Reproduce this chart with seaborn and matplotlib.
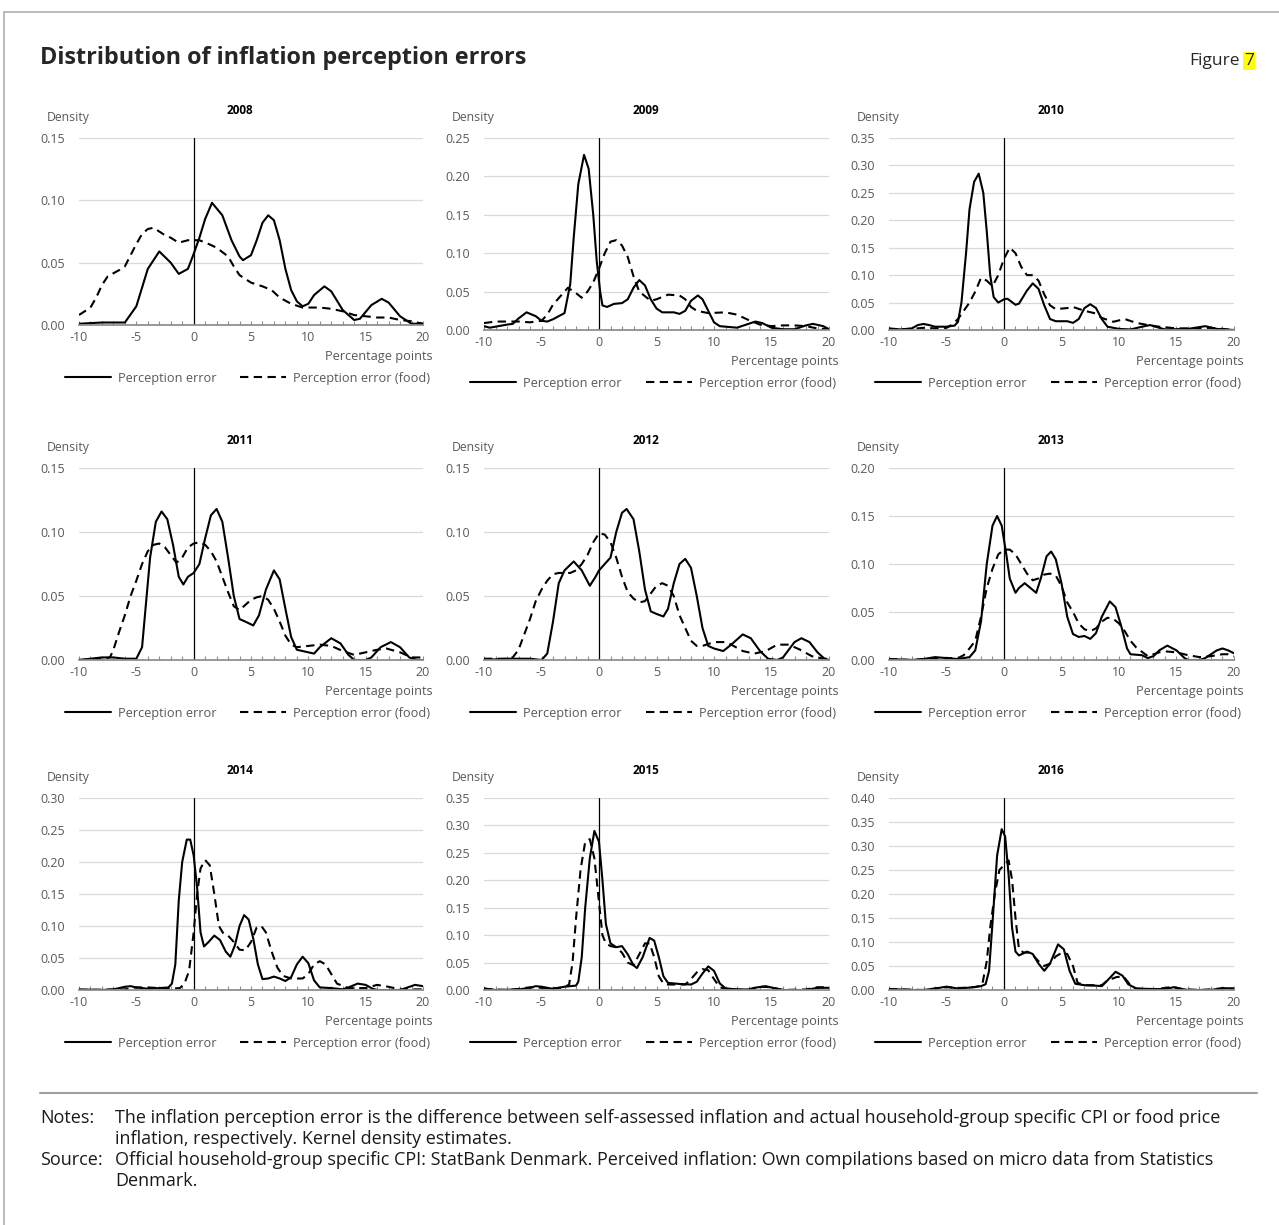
"""Distribution of inflation perception errors, 2008-2016 (kernel densities)."""

# %%
import matplotlib.pyplot as plt
import pandas as pd
import seaborn as sns
from matplotlib.lines import Line2D
from matplotlib.ticker import MultipleLocator

YEARS = [2008, 2009, 2010, 2011, 2012, 2013, 2014, 2015, 2016]
Y_MAX = [0.15, 0.25, 0.35, 0.15, 0.15, 0.20, 0.30, 0.35, 0.40]
SERIES = ["Perception error", "Perception error (food)"]

# (percentage points, density)
pe_2008 = [(-10, .001), (-8, .002), (-6, .002), (-5, .015), (-4, .045), (-3, .059), (-2, .050), (-1.3, .041),
           (-.5, .045), (0, .057), (.5, .070), (1, .085), (1.6, .098), (2.5, .088), (3.3, .068), (4, .055),
           (4.3, .052), (5, .056), (5.5, .068), (6, .082), (6.5, .088), (7, .084), (7.5, .068), (8, .045),
           (8.5, .028), (9, .019), (9.5, .015), (10, .017), (10.5, .024), (11.4, .031), (12, .027), (13, .012),
           (14, .004), (14.5, .005), (15.5, .016), (16.4, .021), (17, .018), (18, .007), (19, .001), (20, .001)]
food_2008 = [(-10, .008), (-9, .014), (-8.5, .022), (-8, .032), (-7.5, .039), (-6.5, .044), (-6, .047),
             (-5.5, .056), (-5, .065), (-4.5, .073), (-4, .077), (-3.5, .078), (-3, .075), (-2.5, .072), (-2, .070),
             (-1.3, .066), (-.5, .068), (.5, .068), (1.3, .065), (2, .062), (3, .055), (3.5, .047), (4, .040),
             (5, .034), (6, .031), (6.8, .028), (7.5, .022), (8.5, .017), (9.5, .014), (11, .014), (12, .013),
             (13, .011), (14, .008), (15, .007), (16, .006), (17, .006), (18, .004), (19, .003), (20, .001)]

pe_2009 = [(-10, .005), (-9.5, .003), (-8, .007), (-7.5, .008), (-7, .015), (-6.3, .023), (-5.5, .018), (-5, .012),
           (-4.5, .011), (-4, .014), (-3, .022), (-2.5, .060), (-2.2, .120), (-1.8, .190), (-1.3, .228), (-.9, .210),
           (-.5, .150), (-.2, .090), (.1, .050), (.3, .032), (.7, .030), (1.3, .034), (2, .035), (2.5, .040),
           (3, .055), (3.5, .065), (4, .058), (4.5, .040), (5, .028), (5.5, .023), (6.5, .023), (7, .021),
           (7.5, .025), (8, .038), (8.6, .045), (9, .040), (9.5, .025), (10, .010), (10.5, .005), (12, .003),
           (13, .008), (13.6, .011), (14.2, .009), (15, .003), (16, .001), (17, .001), (18, .006), (18.6, .008),
           (19.5, .005), (20, .001)]
food_2009 = [(-10, .009), (-9, .011), (-7, .011), (-6, .010), (-5, .012), (-4.5, .020), (-4, .033), (-3, .050),
             (-2.7, .055), (-2, .048), (-1.5, .042), (-1, .050), (-.5, .062), (0, .080), (.5, .100), (1, .115),
             (1.5, .117), (2, .110), (2.5, .095), (3, .070), (3.5, .050), (4.5, .038), (5, .040), (6, .046),
             (7, .045), (7.5, .040), (8, .030), (8.5, .025), (9.5, .022), (11, .023), (12, .020), (13, .013),
             (14, .007), (15, .005), (16, .006), (17, .006), (18, .005), (19, .002), (20, .001)]

pe_2010 = [(-10, .003), (-9, .001), (-8, .003), (-7.5, .009), (-7, .011), (-6.5, .009), (-6, .006), (-5, .006),
           (-4.3, .008), (-4, .015), (-3.7, .050), (-3.3, .140), (-3, .220), (-2.6, .270), (-2.2, .285), (-1.8, .250),
           (-1.5, .180), (-1.2, .100), (-.9, .060), (-.5, .050), (0, .056), (.3, .057), (1, .046), (1.3, .048),
           (2, .072), (2.5, .085), (3, .075), (3.5, .045), (4, .020), (4.5, .016), (5.5, .016), (6, .013),
           (6.5, .020), (7, .040), (7.5, .047), (8, .040), (8.5, .020), (9, .006), (10, .002), (11, .001),
           (12, .006), (12.7, .009), (13.5, .004), (14, .001), (16, .002), (17.5, .007), (18.5, .002), (20, 0)]
food_2010 = [(-10, .001), (-8, .002), (-7, .004), (-6, .003), (-5, .004), (-4.5, .010), (-4, .020), (-3.5, .035),
             (-3, .050), (-2.5, .070), (-2, .095), (-1.5, .090), (-1, .080), (-.5, .100), (0, .130), (.5, .150),
             (1, .140), (1.5, .115), (2, .100), (2.5, .100), (3, .090), (3.5, .065), (4, .045), (4.5, .038),
             (5.5, .040), (6, .042), (7, .035), (8, .030), (8.5, .022), (9.5, .015), (10.5, .020), (11.5, .013),
             (12.5, .009), (13.5, .006), (15, .003), (17, .003), (18, .004), (19, .002), (20, 0)]

pe_2011 = [(-10, 0), (-9, .001), (-8, .002), (-7, .002), (-6, .001), (-5, .001), (-4.5, .010), (-4.2, .040),
           (-3.8, .080), (-3.3, .108), (-2.8, .116), (-2.3, .110), (-1.8, .090), (-1.3, .065), (-.9, .059),
           (-.5, .065), (0, .068), (.5, .075), (1, .095), (1.5, .113), (2, .118), (2.5, .108), (3, .080),
           (3.5, .050), (4, .032), (4.5, .030), (5.2, .027), (5.7, .035), (6.3, .055), (7, .070), (7.5, .063),
           (8, .040), (8.5, .018), (9, .008), (10, .006), (10.5, .005), (11, .010), (12, .017), (12.8, .013),
           (13.5, .004), (14, 0), (15, 0), (15.5, .002), (16.3, .010), (17.2, .014), (18, .010), (18.8, .002),
           (19.5, 0), (20, 0)]
food_2011 = [(-10, 0), (-8, .001), (-7.3, .002), (-7, .008), (-6.5, .022), (-6, .035), (-5.5, .050), (-5, .062),
             (-4.5, .075), (-4, .085), (-3.5, .090), (-3, .091), (-2.5, .088), (-2, .082), (-1.5, .076), (-1, .080),
             (-.5, .088), (0, .091), (.5, .092), (1, .090), (1.5, .085), (2, .077), (2.5, .065), (3, .053),
             (3.5, .042), (4, .039), (4.5, .043), (5, .047), (5.5, .049), (6, .050), (6.5, .047), (7, .040),
             (7.5, .030), (8, .019), (8.5, .012), (9, .010), (10, .011), (11, .012), (12, .011), (13, .007),
             (14, .004), (15, .006), (16, .008), (16.8, .009), (18, .006), (19, .002), (20, .002)]

pe_2012 = [(-10, 0), (-8, .001), (-6, .001), (-5, 0), (-4.5, .005), (-4, .030), (-3.5, .060), (-3, .070),
           (-2.2, .077), (-1.5, .070), (-.8, .058), (-.3, .065), (0, .070), (.5, .075), (1, .080), (1.5, .100),
           (2, .115), (2.4, .118), (3, .110), (3.5, .085), (4, .055), (4.5, .038), (5, .036), (5.6, .034),
           (6, .040), (6.5, .060), (7, .075), (7.5, .079), (8, .072), (8.5, .050), (9, .025), (9.5, .011),
           (10, .009), (10.8, .007), (11.5, .012), (12.5, .020), (13.2, .017), (14, .007), (14.7, .001), (15.5, 0),
           (16, .002), (17, .014), (17.6, .017), (18.3, .014), (19, .006), (19.6, .001), (20, 0)]
food_2012 = [(-10, .001), (-8, .001), (-7.5, .002), (-7, .008), (-6.5, .020), (-6, .032), (-5.5, .046), (-5, .055),
             (-4.5, .062), (-4, .067), (-3.5, .068), (-3, .068), (-2.5, .068), (-2, .070), (-1.5, .075), (-1, .082),
             (-.5, .092), (0, .099), (.5, .098), (1, .092), (1.5, .080), (2, .065), (2.5, .053), (3, .048),
             (3.5, .045), (4, .046), (4.5, .052), (5, .058), (5.5, .060), (6, .058), (6.5, .050), (7, .035),
             (7.5, .025), (8, .015), (8.5, .011), (9, .011), (10, .014), (11, .014), (11.5, .012), (12.5, .007),
             (13.5, .005), (14.5, .007), (15.5, .012), (16.5, .012), (17.5, .008), (18.5, .003), (19.5, .001),
             (20, .001)]

pe_2013 = [(-10, .001), (-8, 0), (-7, .001), (-6, .003), (-5, .002), (-4, .001), (-3, .003), (-2.5, .010),
           (-2, .040), (-1.5, .100), (-1, .140), (-.6, .150), (-.2, .140), (.2, .110), (.5, .085), (1, .070),
           (1.3, .075), (1.8, .080), (2.3, .075), (2.8, .070), (3.2, .085), (3.7, .108), (4.1, .113), (4.5, .105),
           (5, .080), (5.5, .045), (6, .027), (6.5, .024), (7, .025), (7.5, .022), (8, .028), (8.5, .045),
           (9.2, .061), (9.7, .055), (10.2, .035), (10.7, .012), (11, .006), (12, .005), (12.5, .002), (13, .004),
           (13.5, .010), (14.2, .015), (15, .010), (15.7, .002), (16, 0), (17, 0), (17.5, .002), (18.5, .010),
           (19, .012), (19.5, .010), (20, .007)]
food_2013 = [(-10, .001), (-8, 0), (-6, .002), (-4, .002), (-3.5, .005), (-3, .012), (-2.5, .020), (-2, .045),
             (-1.5, .075), (-1, .095), (-.5, .110), (0, .115), (.5, .115), (1, .110), (1.5, .100), (2, .090),
             (2.5, .083), (3, .085), (3.5, .089), (4, .090), (4.5, .088), (5, .077), (5.5, .060), (6, .050),
             (6.5, .038), (7, .032), (7.5, .030), (8, .033), (8.5, .040), (9, .044), (9.5, .043), (10, .038),
             (10.5, .030), (11, .020), (11.5, .013), (12.5, .004), (13.5, .008), (14, .009), (15, .008), (16, .005),
             (17, .003), (18, .004), (19, .006), (19.5, .006), (20, .004)]

pe_2014 = [(-10, .001), (-8, 0), (-7, .001), (-6, .005), (-5.5, .006), (-5, .004), (-4, .002), (-3, .003),
           (-2.2, .004), (-1.9, .010), (-1.6, .040), (-1.3, .140), (-1, .200), (-.6, .235), (-.3, .235), (0, .210),
           (.3, .160), (.6, .090), (.9, .068), (1.3, .075), (1.8, .085), (2.3, .078), (2.8, .060), (3.2, .052),
           (3.6, .070), (4, .100), (4.4, .117), (4.8, .110), (5.2, .080), (5.6, .040), (6, .017), (6.5, .018),
           (7, .021), (7.5, .018), (8, .014), (8.5, .020), (9, .040), (9.5, .052), (10, .042), (10.5, .015),
           (11, .004), (12, .003), (12.5, .002), (13, .001), (13.5, .004), (14.3, .010), (15, .008), (15.6, .002),
           (16, 0), (18, 0), (18.5, .003), (19.3, .008), (20, .006)]
food_2014 = [(-10, 0), (-6, .001), (-5, .004), (-4, .004), (-3, .003), (-2, .002), (-1.2, .003), (-.8, .010),
             (-.4, .030), (0, .090), (.3, .150), (.6, .190), (1, .203), (1.4, .195), (1.8, .150), (2.2, .100),
             (2.6, .088), (3, .085), (3.5, .075), (4, .063), (4.5, .062), (5, .075), (5.5, .098), (5.9, .100),
             (6.3, .090), (6.8, .060), (7.3, .035), (7.8, .022), (8.5, .018), (9.5, .018), (10, .025), (10.5, .040),
             (11, .045), (11.5, .040), (12, .025), (12.5, .010), (13.5, .003), (15, .003), (16, .008), (17, .005),
             (18, .001), (19, .001), (20, .001)]

pe_2015 = [(-10, .003), (-9, 0), (-7, .001), (-6, .004), (-5.5, .007), (-5, .006), (-4, .002), (-3, .006),
           (-2, .008), (-1.8, .015), (-1.5, .060), (-1.2, .150), (-.8, .240), (-.4, .290), (0, .270), (.3, .200),
           (.6, .120), (1, .085), (1.5, .078), (2, .080), (2.5, .065), (3, .045), (3.3, .040), (3.8, .060),
           (4.4, .095), (4.8, .090), (5.2, .060), (5.6, .025), (6, .013), (7, .011), (8, .010), (8.5, .015),
           (9, .030), (9.5, .043), (10, .035), (10.5, .012), (11, .003), (12, .001), (13, .001), (13.5, .004),
           (14.5, .007), (15.5, .002), (16, 0), (18, 0), (19, .004), (20, .004)]
food_2015 = [(-10, .002), (-8, 0), (-7, .002), (-6, .005), (-5, .004), (-4, .003), (-3, .005), (-2.6, .010),
             (-2.3, .050), (-2, .130), (-1.6, .220), (-1.2, .270), (-.8, .275), (-.4, .240), (0, .160), (.3, .100),
             (.6, .085), (1, .080), (1.5, .078), (2, .068), (2.5, .050), (3, .045), (3.5, .065), (4, .085),
             (4.4, .085), (4.8, .060), (5.2, .025), (5.6, .012), (6, .010), (7, .010), (7.5, .010), (8, .020),
             (8.5, .032), (9, .038), (9.5, .036), (10, .020), (10.5, .005), (11, .002), (13, 0), (14, .006),
             (15, .005), (16, 0), (18, .001), (19, .005), (20, .005)]

pe_2016 = [(-10, .002), (-8, 0), (-7, 0), (-6, .003), (-5, .007), (-4, .003), (-3, .005), (-2, .008),
           (-1.6, .012), (-1.3, .040), (-1, .140), (-.6, .280), (-.2, .335), (.1, .320), (.4, .240), (.7, .130),
           (1, .080), (1.3, .072), (2, .080), (2.5, .075), (3, .055), (3.5, .040), (4, .055), (4.7, .095),
           (5.2, .085), (5.7, .040), (6.2, .013), (7, .010), (8, .009), (8.5, .008), (9, .020), (9.7, .038),
           (10.3, .030), (10.8, .012), (11.5, .003), (13, .002), (14, .002), (14.8, .006), (15.5, .002), (16, 0),
           (18, 0), (19, .004), (20, .003)]
food_2016 = [(-10, .002), (-7, 0), (-5, .006), (-4, .004), (-2.5, .006), (-1.9, .010), (-1.5, .060), (-1.2, .130),
             (-.8, .200), (-.4, .250), (0, .260), (.4, .270), (.7, .230), (1, .150), (1.3, .085), (1.7, .078),
             (2.3, .078), (3, .060), (3.5, .050), (4, .055), (4.5, .070), (5, .077), (5.5, .075), (6, .050),
             (6.4, .015), (7, .010), (8, .010), (8.5, .010), (9, .020), (9.8, .027), (10.4, .028), (11, .010),
             (11.5, .003), (13, .001), (14.5, .006), (15.5, .002), (17, 0), (19, .003), (20, .003)]

curves = {
    2008: (pe_2008, food_2008), 2009: (pe_2009, food_2009), 2010: (pe_2010, food_2010),
    2011: (pe_2011, food_2011), 2012: (pe_2012, food_2012), 2013: (pe_2013, food_2013),
    2014: (pe_2014, food_2014), 2015: (pe_2015, food_2015), 2016: (pe_2016, food_2016),
}

rows = []
for year, pair in curves.items():
    for name, pts in zip(SERIES, pair):
        for x, y in pts:
            rows.append({"year": year, "series": name, "x": x, "density": y})
df = pd.DataFrame(rows)

# %%
sns.set_theme(style="white")
plt.rcParams["font.family"] = ["Open Sans", "DejaVu Sans"]
plt.rcParams["axes.unicode_minus"] = False
GREY = "#595959"
W, H = 1279, 1225

fig = plt.figure(figsize=(W / 100, H / 100), dpi=100)

col_lr = [(79, 423), (484, 829), (889, 1234)]
row_tb = [(138, 330), (468, 660), (798, 990)]

DASH = (4, 2.6)
dash_map = {SERIES[0]: "", SERIES[1]: DASH}

for i, year in enumerate(YEARS):
    l, r = col_lr[i % 3]
    t, b = row_tb[i // 3]
    if i == 0:
        b = 325
    ax = fig.add_axes([l / W, 1 - b / H, (r - l) / W, (b - t) / H])
    sub = df[df["year"] == year]
    sns.lineplot(data=sub, x="x", y="density", style="series", dashes=dash_map,
                 color="black", linewidth=1.5, ax=ax, legend=False)
    ymax = Y_MAX[i]
    ax.set_xlim(-10, 20)
    ax.set_ylim(0, ymax)
    ax.axvline(0, color="black", linewidth=0.9, zorder=1)
    ax.xaxis.set_major_locator(MultipleLocator(5))
    ax.xaxis.set_minor_locator(MultipleLocator(1))
    ax.yaxis.set_major_locator(MultipleLocator(0.05))
    ax.yaxis.set_major_formatter(plt.FuncFormatter(lambda v, p: f"{v:.2f}"))
    ax.grid(axis="y", color="#d9d9d9", linewidth=0.9)
    ax.set_axisbelow(True)
    for s in ["left", "top", "right"]:
        ax.spines[s].set_visible(False)
    ax.spines["bottom"].set_color("#8c8c8c")
    ax.tick_params(axis="x", which="both", bottom=True, direction="in", length=3,
                   width=0.8, color="#8c8c8c", labelsize=9, labelcolor=GREY, pad=4)
    ax.tick_params(axis="y", length=0, labelsize=9, labelcolor=GREY, pad=10)
    ax.set_xlabel("")
    ax.set_ylabel("")
    h = b - t
    ax.text(-32 / (r - l), 1 + 20 / h, "Density", transform=ax.transAxes,
            ha="left", va="center", fontsize=8.8, color=GREY)
    ax.text(0.468, 1 + 28 / h, str(year), transform=ax.transAxes,
            ha="center", va="center", fontsize=8.5, fontweight="bold", color="black")
    ax.text(1 + 10 / (r - l), -31 / h, "Percentage points", transform=ax.transAxes,
            ha="right", va="center", fontsize=9.2, color=GREY)
    handles = [Line2D([], [], color="black", linewidth=1.5, linestyle="-"),
               Line2D([], [], color="black", linewidth=1.5, dashes=DASH)]
    leg = ax.legend(handles, SERIES, loc="center", bbox_to_anchor=(0.49, -53 / h),
                    ncol=2, frameon=False, fontsize=9.2, handlelength=3.6,
                    columnspacing=1.9, handletextpad=0.55)
    for txt in leg.get_texts():
        txt.set_color(GREY)

# title, figure number, notes
fig.text(40 / W, 1 - 58 / H, "Distribution of inflation perception errors",
         fontsize=16.8, fontweight="bold", ha="left", va="center")
fig.text(1240 / W, 1 - 61 / H, "Figure", fontsize=12.5, ha="right", va="center")
fig.text(1244 / W, 1 - 61 / H, "7", fontsize=12.5, ha="left", va="center",
         bbox=dict(facecolor="#ffff00", edgecolor="none", pad=1))

fig.add_artist(Line2D([40 / W, 1257 / W], [1 - 1093 / H] * 2, color="#a0a0a0", linewidth=1.5))
fig.add_artist(Line2D([4 / W, 1], [1 - 12 / H] * 2, color="#b0b0b0", linewidth=1.2))
fig.add_artist(Line2D([4 / W, 4 / W], [1 - 12 / H, 0], color="#b0b0b0", linewidth=1.2))

note_kw = dict(fontsize=13, ha="left", va="center", color="#1a1a1a")
fig.text(40 / W, 1 - 1118 / H, "Notes:", **note_kw)
fig.text(115 / W, 1 - 1118 / H, "The inflation perception error is the difference between self-assessed "
         "inflation and actual household-group specific CPI or food price", **note_kw)
fig.text(115 / W, 1 - 1139 / H, "inflation, respectively. Kernel density estimates.", **note_kw)
fig.text(40 / W, 1 - 1160 / H, "Source:", **note_kw)
fig.text(115 / W, 1 - 1160 / H, "Official household-group specific CPI: StatBank Denmark. Perceived "
         "inflation: Own compilations based on micro data from Statistics", **note_kw)
fig.text(115 / W, 1 - 1181 / H, "Denmark.", **note_kw)

fig.savefig("out.png", dpi=100, facecolor="white")
